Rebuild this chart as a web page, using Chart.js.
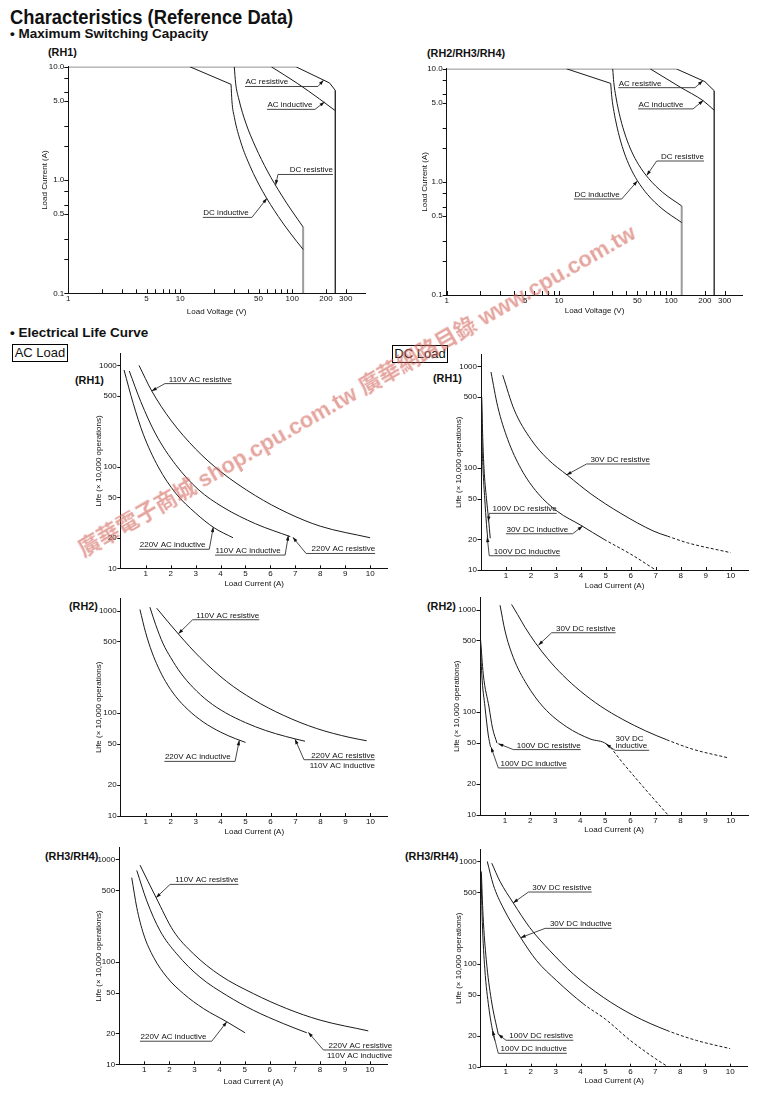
<!DOCTYPE html>
<html lang="zh-Hant">
<head>
<meta charset="UTF-8">
<title>Characteristics (Reference Data)</title>
<script src="https://cdn.jsdelivr.net/npm/chart.js@4.4.0/dist/chart.umd.min.js"></script>
<style>
  body { margin: 0; background: #fff; font-family: "Liberation Sans", Arial, sans-serif; color: #111; }
  #page { position: relative; width: 761px; height: 1093px; overflow: hidden; }
  #page canvas { position: absolute; }
  .t { position: absolute; white-space: nowrap; line-height: 1; }
  .h1 { font-weight: bold; font-size: 19.5px; transform: scaleX(0.94); transform-origin: 0 0; }
  .h2 { font-weight: bold; font-size: 13.5px; }
  .rh { font-weight: bold; font-size: 10.8px; }
  .box { position: absolute; box-sizing: border-box; width: 56px; height: 18px; border: 1px solid #000;
         font-size: 13px; line-height: 16px; text-align: center; }
  .wm { position: absolute; left: 80px; top: 540px; white-space: nowrap; line-height: 1;
        font-weight: bold; font-size: 22px; color: rgba(210, 100, 90, 0.58);
        font-family: "Liberation Sans", "Noto Sans CJK TC", sans-serif;
        transform: rotate(-30deg); transform-origin: 0 50%; z-index: 5; pointer-events: none; }
</style>
</head>
<body>
<div id="page">
  <div class="t h1" style="left:10px; top:8px;">Characteristics (Reference Data)</div>
  <div class="t h2" style="left:10px; top:26.5px;">• Maximum Switching Capacity</div>
  <div class="t rh" style="left:48px; top:46.7px;">(RH1)</div>
  <div class="t rh" style="left:427px; top:47.7px;">(RH2/RH3/RH4)</div>
  <div class="t h2" style="left:10px; top:325.5px;">• Electrical Life Curve</div>
  <div class="box" style="left:12px; top:344px;">AC Load</div>
  <div class="box" style="left:392px; top:345px;">DC Load</div>
  <div class="t rh" style="left:75px; top:374.7px;">(RH1)</div>
  <div class="t rh" style="left:433px; top:372.7px;">(RH1)</div>
  <div class="t rh" style="left:69px; top:601.4px;">(RH2)</div>
  <div class="t rh" style="left:427px; top:600.7px;">(RH2)</div>
  <div class="t rh" style="left:45px; top:850.7px;">(RH3/RH4)</div>
  <div class="t rh" style="left:405px; top:851.4px;">(RH3/RH4)</div>
  <div class="wm">廣華電子商城 shop.cpu.com.tw 廣華網路目錄 www.cpu.com.tw</div>
</div>
<script>
// ---- Maximum switching capacity, RH1 (load voltage V / load current A)
const rh1AcResV = [1, 108, 215, 242];
const rh1AcResI = [10, 10, 7.2, 6.2];
const rh1AcLimitV = [242, 242];
const rh1AcLimitI = [6.2, 0.1];
const rh1AcIndV = [65, 112, 175, 242];
const rh1AcIndI = [10, 7.1, 5.2, 4.1];
const rh1DcKneeV = [12.2, 28.4];
const rh1DcKneeI = [10, 7.0];
const rh1DcIndV = [28.4, 28.9, 30.4, 34.7, 42.2, 54.6, 75.0, 95.7, 125];
const rh1DcIndI = [7.0, 5.01, 3.58, 2.16, 1.31, 0.789, 0.477, 0.341, 0.244];
const rh1DcResV = [30.35, 31.2, 33.3, 38.5, 47.0, 60.0, 80.1, 99.3, 125];
const rh1DcResI = [10, 7.18, 5.19, 3.18, 1.96, 1.2, 0.737, 0.533, 0.385];
const rh1DcLimitV = [125, 125];
const rh1DcLimitI = [0.385, 0.1];

// ---- Maximum switching capacity, RH2/RH3/RH4
const rh2AcResV = [1, 111, 200, 242];
const rh2AcResI = [10, 10, 7.7, 6.4];
const rh2AcLimitV = [242, 242];
const rh2AcLimitI = [6.4, 0.1];
const rh2AcIndV = [65, 120, 194, 242];
const rh2AcIndI = [10, 6.9, 5.2, 4.3];
const rh2DcKneeV = [11.7, 28.95];
const rh2DcKneeI = [10, 7.43];
const rh2DcIndV = [28.95, 29.63, 30.91, 32.69, 35.07, 38.32, 42.98, 50.14, 61.9, 82.9, 124.3];
const rh2DcIndI = [7.43, 5.6, 4.21, 3.18, 2.39, 1.8, 1.357, 1.023, 0.77, 0.58, 0.437];
const rh2DcResV = [30.17, 30.85, 32.15, 33.94, 36.35, 39.62, 44.3, 51.43, 63.13, 83.86, 124.3];
const rh2DcResI = [10, 7.56, 5.72, 4.33, 3.27, 2.48, 1.873, 1.416, 1.071, 0.81, 0.613];
const rh2DcLimitV = [124.3, 124.3];
const rh2DcLimitI = [0.613, 0.1];

// ---- Electrical life, AC load (load current A / life x10,000 operations)
const acRh1Ind220X = [0.13, 0.5, 0.9, 1.5, 2.2, 3.0, 3.75, 4.5];
const acRh1Ind220L = [900, 420, 210, 100, 55, 35, 25, 20];
const acRh1MidX = [0.34, 0.8, 1.4, 2.2, 3.1, 4.1, 5.4, 6.8];
const acRh1MidL = [880, 440, 210, 105, 60, 40, 27.5, 20.5];
const acRh1Res110X = [0.73, 1.24, 2.0, 3.0, 4.0, 5.4, 6.7, 8.0, 10.0];
const acRh1Res110L = [1000, 560, 290, 150, 90, 52, 35, 26, 20];

const acRh2Ind220X = [0.77, 1.0, 1.25, 1.5, 1.8, 2.2, 2.7, 3.3, 4.0, 4.6, 5.0];
const acRh2Ind220L = [1023, 608, 394, 281, 203, 146, 108, 82.4, 65.5, 56.5, 52];
const acRh2MidX = [1.17, 1.4, 1.7, 2.0, 2.4, 2.9, 3.5, 4.2, 5.0, 5.8, 6.6, 7.38];
const acRh2MidL = [1077, 728, 474, 349, 247, 178, 131, 101, 81, 68, 59.5, 53.4];
const acRh2Res110X = [1.44, 2.31, 3.18, 4.24, 5.31, 6.51, 7.85, 9.18, 9.85];
const acRh2Res110L = [1053, 591, 348, 204, 136, 95.6, 71, 58.1, 54];

const acRh3Ind220X = [0.5, 0.7, 0.97, 1.37, 1.9, 2.56, 3.36, 4.29, 5.02];
const acRh3Ind220L = [664, 340, 187, 111, 71, 49, 35, 26, 20.3];
const acRh3MidX = [0.7, 1.1, 1.63, 2.29, 3.22, 4.29, 5.35, 6.54, 7.48];
const acRh3MidL = [782, 394, 201, 120, 71, 47, 33.7, 25, 20.3];
const acRh3Res110X = [0.83, 1.47, 2.16, 2.96, 4.02, 5.35, 6.68, 8.01, 9.93];
const acRh3Res110L = [880, 425, 201, 120, 74, 49, 35, 27, 21.2];

// ---- Electrical life, DC load
const dcRh1Ind30X = [0.4, 0.67, 1.07, 1.6, 2.27, 3.07, 4.0, 4.93, 6.0, 7.0];
const dcRh1Ind30L = [880, 403, 192, 99, 57, 37.5, 27.5, 20, 14.3, 10];
const dcRh1Res30X = [0.87, 1.33, 2.0, 2.67, 3.47, 4.4, 5.6, 6.93, 7.47, 8.27, 10.0];
const dcRh1Res30L = [820, 375, 192, 123, 85, 56, 36, 24, 21.5, 18.5, 14.8];
const dcRh1Res100X = [0.03, 0.07, 0.12, 0.22, 0.3, 0.37];
const dcRh1Res100L = [500, 200, 100, 50, 32, 20.5];
const dcRh1Ind100X = [0.02, 0.04, 0.08, 0.15, 0.22, 0.28];
const dcRh1Ind100L = [500, 200, 100, 50, 28, 19];

const dcRh2Res30X = [1.26, 1.5, 1.8, 2.2, 2.7, 3.3, 4.0, 4.8, 5.7, 6.6, 7.45, 8.5, 9.9];
const dcRh2Res30L = [1120, 894, 669, 477, 332, 230, 161, 115, 85, 66, 54, 43.6, 36];
const dcRh2Ind30X = [0.8, 1.0, 1.33, 1.86, 2.53, 3.46, 4.39, 5.05, 5.72, 6.51, 7.5];
const dcRh2Ind30L = [1100, 617, 340, 188, 112, 72, 55, 49, 31.6, 18.8, 10];
const dcRh2Res100X = [0.02, 0.13, 0.36, 0.5, 0.68];
const dcRh2Res100L = [520, 235, 112, 70, 50];
const dcRh2Ind100X = [0.01, 0.07, 0.2, 0.33, 0.42];
const dcRh2Ind100L = [520, 235, 112, 60, 46];

const dcRh3Res30X = [0.44, 0.77, 1.3, 1.97, 2.77, 3.71, 4.91, 6.12, 7.46, 8.66, 10.0];
const dcRh3Res30L = [963, 640, 395, 226, 135, 80, 47.5, 31.6, 22.6, 18, 15];
const dcRh3Ind30X = [0.26, 0.5, 0.9, 1.6, 2.24, 3.04, 4.11, 5.0, 6.0, 7.0, 7.5];
const dcRh3Ind30L = [1000, 594, 353, 181, 108, 69, 41, 29, 18, 12, 10];
const dcRh3Res100X = [0.02, 0.09, 0.22, 0.42, 0.7];
const dcRh3Res100L = [800, 300, 110, 45, 20.7];
const dcRh3Ind100X = [0.01, 0.06, 0.16, 0.32, 0.47, 0.56];
const dcRh3Ind100L = [750, 260, 90, 38, 22.6, 18];

// ---- axis ticks
const mscXTicks = [1, 2, 3, 4, 5, 6, 7, 8, 9, 10, 20, 30, 40, 50, 60, 70, 80, 90, 100, 200, 300];
const mscXLabels = [1, 5, 10, 50, 100, 200, 300];
const mscYTicks = [0.1, 0.2, 0.3, 0.5, 0.6, 0.8, 1, 2, 3, 5, 6, 8, 10];
const mscYLabels = [0.1, 0.5, 1, 5, 10];
const lifeXTicks = [1, 2, 3, 4, 5, 6, 7, 8, 9, 10];
const lifeYTicks = [10, 20, 50, 100, 500, 1000];

const FONT = '"Liberation Sans", Arial, sans-serif';
Chart.defaults.font.family = FONT;
Chart.defaults.font.size = 8;
Chart.defaults.color = '#111';
const page = document.getElementById('page');

function line(xs, ys, o = {}) {
  const ds = {
    data: xs.map((x, i) => ({ x, y: ys[i] })),
    borderColor: o.color || '#1a1a1a',
    borderWidth: o.width || 1,
    pointRadius: 0,
    fill: false,
    tension: 0,
    cubicInterpolationMode: o.smooth ? 'monotone' : 'default'
  };
  if (o.dashFrom !== undefined) {
    ds.segment = { borderDash: c => (c.p0.parsed.x >= o.dashFrom - 1e-6 ? [3, 2] : undefined) };
  }
  return ds;
}

function drawRef(chart, cfg) {
  const { ctx, chartArea: a } = chart;
  const x = chart.scales.x, y = chart.scales.y;
  ctx.save();
  ctx.strokeStyle = '#111';
  ctx.lineWidth = 1;
  ctx.beginPath();
  cfg.xTicks.forEach(v => {
    const px = Math.round(x.getPixelForValue(v)) + 0.5;
    ctx.moveTo(px, a.bottom);
    ctx.lineTo(px, a.bottom - cfg.xLen);
  });
  cfg.yTicks.forEach(v => {
    const py = Math.round(y.getPixelForValue(v)) + 0.5;
    ctx.moveTo(a.left, py);
    ctx.lineTo(a.left - cfg.yLen, py);
  });
  ctx.stroke();

  ctx.font = '8px ' + FONT;
  cfg.notes.forEach(n => {
    const x0 = x.getPixelForValue(n.x0), x1 = x.getPixelForValue(n.x1);
    const uy = y.getPixelForValue(n.y);
    const tx = x.getPixelForValue(n.tipX), ty = y.getPixelForValue(n.tipY);
    const sx = n.from === 'start' ? x0 : x1;
    ctx.strokeStyle = '#333';
    ctx.lineWidth = 0.9;
    ctx.beginPath();
    ctx.moveTo(x0, uy); ctx.lineTo(x1, uy);
    ctx.moveTo(sx, uy); ctx.lineTo(tx, ty);
    ctx.stroke();
    const ang = Math.atan2(ty - uy, tx - sx), c = Math.cos(ang), s = Math.sin(ang);
    ctx.beginPath();
    ctx.moveTo(tx, ty);
    ctx.lineTo(tx - 5 * c + 1.7 * s, ty - 5 * s - 1.7 * c);
    ctx.lineTo(tx - 5 * c - 1.7 * s, ty - 5 * s + 1.7 * c);
    ctx.closePath();
    ctx.fillStyle = '#111';
    ctx.fill();
    const align = n.align || (n.from === 'start' ? 'right' : 'left');
    ctx.textAlign = align;
    ctx.textBaseline = 'alphabetic';
    const px = align === 'right' ? x1 : x0 + 0.5;
    n.text.forEach((t, i) => ctx.fillText(t, px, uy - 2 - (n.text.length - 1 - i) * 7.5));
    (n.below || []).forEach((t, i) => ctx.fillText(t, px, uy + 8.5 + i * 7.5));
  });
  ctx.restore();
}

function panel(cfg) {
  const { box, plot } = cfg;
  const cv = document.createElement('canvas');
  cv.width = box.w; cv.height = box.h;
  Object.assign(cv.style, { left: box.x + 'px', top: box.y + 'px', width: box.w + 'px', height: box.h + 'px' });
  page.appendChild(cv);
  const yw = plot.l - box.x, pt = plot.t - box.y;
  const pr = box.x + box.w - plot.r, xh = box.y + box.h - plot.b;
  const axisFont = { size: 8 };
  new Chart(cv, {
    type: 'line',
    data: { datasets: cfg.datasets },
    options: {
      responsive: false, animation: false, devicePixelRatio: 1, events: [],
      layout: { padding: { left: 0, top: pt, right: pr, bottom: 0 } },
      plugins: { legend: { display: false }, tooltip: { enabled: false } },
      scales: {
        x: {
          type: cfg.xType, min: cfg.xMin, max: cfg.xMax,
          grid: { display: false, drawTicks: false },
          border: { color: '#111', width: 1 },
          ticks: { padding: 0.5, autoSkip: false, maxRotation: 0, color: '#111', font: axisFont,
                   callback: v => String(v) },
          title: { display: true, text: cfg.xTitle, padding: 0, color: '#111', font: axisFont },
          afterBuildTicks: s => { s.ticks = cfg.xLabels.map(v => ({ value: v })); },
          afterFit: s => { s.height = xh; }
        },
        y: {
          type: 'logarithmic', min: cfg.yMin, max: cfg.yMax,
          grid: { display: false, drawTicks: false },
          border: { color: '#111', width: 1 },
          ticks: { padding: 4, autoSkip: false, color: '#111', font: axisFont, callback: cfg.yFmt },
          title: { display: true, text: cfg.yTitle, padding: 0, color: '#111', font: axisFont },
          afterBuildTicks: s => { s.ticks = cfg.yLabels.map(v => ({ value: v })); },
          afterFit: s => { s.width = yw; }
        }
      }
    },
    plugins: [{ id: 'ref', afterDraw: chart => drawRef(chart, cfg) }]
  });
}

const GRAY = '#9c9c9c';
const msc = {
  xType: 'logarithmic', xMin: 1, yMin: 0.1, yMax: 10,
  xTicks: mscXTicks, xLabels: mscXLabels, yTicks: mscYTicks, yLabels: mscYLabels,
  xLen: 4, yLen: 4, yFmt: v => Number(v).toFixed(1),
  xTitle: 'Load Voltage (V)', yTitle: 'Load Current (A)'
};
const life = {
  xType: 'linear', xMin: 0, xMax: 10.7, yMin: 10, yMax: 1300,
  xTicks: lifeXTicks, xLabels: lifeXTicks, yTicks: lifeYTicks, yLabels: lifeYTicks,
  xLen: 3, yLen: 3.5, yFmt: v => String(v),
  xTitle: 'Load Current (A)', yTitle: 'Life (× 10,000 operations)'
};

// RH1 switching capacity
panel(Object.assign({}, msc, {
  box: { x: 40, y: 58, w: 332, h: 259 }, plot: { l: 68.3, t: 65.7, r: 365, b: 293.3 }, xMax: 446,
  datasets: [
    line(rh1AcResV, rh1AcResI), line(rh1AcLimitV, rh1AcLimitI, { width: 1.3 }),
    line(rh1AcIndV, rh1AcIndI, { smooth: true }),
    line(rh1DcKneeV, rh1DcKneeI), line(rh1DcIndV, rh1DcIndI, { smooth: true }),
    line(rh1DcResV, rh1DcResI, { smooth: true }), line(rh1DcLimitV, rh1DcLimitI, { color: GRAY, width: 2 })
  ],
  notes: [
    { text: ['AC resistive'], x0: 37.8, x1: 169.6, y: 6.7, tipX: 190, tipY: 7.62, from: 'end' },
    { text: ['AC inductive'], x0: 59.4, x1: 159.7, y: 4.21, tipX: 194, tipY: 4.9, from: 'end' },
    { text: ['DC resistive'], x0: 74.5, x1: 230.7, y: 1.12, tipX: 71, tipY: 0.905, from: 'start' },
    { text: ['DC inductive'], x0: 15.9, x1: 43.6, y: 0.468, tipX: 59.4, tipY: 0.69, from: 'end' }
  ]
}));

// RH2/RH3/RH4 switching capacity
panel(Object.assign({}, msc, {
  box: { x: 420, y: 60, w: 329, h: 256 }, plot: { l: 446.7, t: 67.3, r: 742.3, b: 295 }, xMax: 431,
  datasets: [
    line(rh2AcResV, rh2AcResI), line(rh2AcLimitV, rh2AcLimitI, { width: 1.3 }),
    line(rh2AcIndV, rh2AcIndI, { smooth: true }),
    line(rh2DcKneeV, rh2DcKneeI), line(rh2DcIndV, rh2DcIndI, { smooth: true }),
    line(rh2DcResV, rh2DcResI, { smooth: true }), line(rh2DcLimitV, rh2DcLimitI, { color: GRAY, width: 2 })
  ],
  notes: [
    { text: ['AC resistive'], x0: 33.8, x1: 163.4, y: 6.81, tipX: 191.4, tipY: 7.84, from: 'end' },
    { text: ['AC inductive'], x0: 50.7, x1: 156.8, y: 4.42, tipX: 193.6, tipY: 5.25, from: 'end' },
    { text: ['DC resistive'], x0: 74.4, x1: 196.4, y: 1.53, tipX: 60.6, tipY: 1.14, from: 'start' },
    { text: ['DC inductive'], x0: 13.6, x1: 36.3, y: 0.706, tipX: 50.1, tipY: 1.02, from: 'end' }
  ]
}));

// AC load RH1
panel(Object.assign({}, life, {
  box: { x: 94, y: 345, w: 300, h: 244 }, plot: { l: 120.8, t: 351.6, r: 387.6, b: 568.3 },
  datasets: [
    line(acRh1Ind220X, acRh1Ind220L, { smooth: true }),
    line(acRh1MidX, acRh1MidL, { smooth: true }),
    line(acRh1Res110X, acRh1Res110L, { smooth: true })
  ],
  notes: [
    { text: ['110V AC resistive'], x0: 1.77, x1: 4.45, y: 661, tipX: 1.24, tipY: 560, from: 'start' },
    { text: ['220V AC inductive'], x0: 0.74, x1: 3.55, y: 15.4, tipX: 3.71, tipY: 25.5, from: 'end' },
    { text: ['110V AC inductive'], x0: 3.78, x1: 6.59, y: 13.5, tipX: 6.72, tipY: 21, from: 'end' },
    { text: ['220V AC resistive'], x0: 7.43, x1: 10.2, y: 14.0, tipX: 6.9, tipY: 20.2, from: 'start' }
  ]
}));

// DC load RH1
panel(Object.assign({}, life, {
  box: { x: 454, y: 346, w: 301, h: 245 }, plot: { l: 481, t: 352.3, r: 748.1, b: 570 },
  datasets: [
    line(dcRh1Ind30X, dcRh1Ind30L, { smooth: true, dashFrom: 4.93 }),
    line(dcRh1Res30X, dcRh1Res30L, { smooth: true, dashFrom: 7.47 }),
    line(dcRh1Res100X, dcRh1Res100L, { smooth: true }),
    line(dcRh1Ind100X, dcRh1Ind100L, { smooth: true })
  ],
  notes: [
    { text: ['30V DC resistive'], x0: 4.23, x1: 6.77, y: 110, tipX: 3.43, tipY: 86, from: 'start' },
    { text: ['100V DC resistive'], x0: 0.33, x1: 3.03, y: 36, tipX: 0.29, tipY: 30, from: 'start' },
    { text: ['30V DC inductive'], x0: 1.0, x1: 3.67, y: 22.7, tipX: 4.07, tipY: 27, from: 'end' },
    { text: ['100V DC inductive'], x0: 0.33, x1: 3.17, y: 13.8, tipX: 0.25, tipY: 21, from: 'start' }
  ]
}));

// AC load RH2
panel(Object.assign({}, life, {
  box: { x: 94, y: 590, w: 300, h: 247 }, plot: { l: 120.7, t: 597.2, r: 387.9, b: 816 },
  datasets: [
    line(acRh2Ind220X, acRh2Ind220L, { smooth: true }),
    line(acRh2MidX, acRh2MidL, { smooth: true }),
    line(acRh2Res110X, acRh2Res110L, { smooth: true })
  ],
  notes: [
    { text: ['110V AC resistive'], x0: 2.88, x1: 5.55, y: 813, tipX: 2.31, tipY: 595, from: 'start' },
    { text: ['220V AC inductive'], x0: 1.75, x1: 4.58, y: 34, tipX: 4.75, tipY: 54.5, from: 'end' },
    { text: ['220V AC resistive'], below: ['110V AC inductive'], x0: 7.34, x1: 10.18, y: 35.3, tipX: 6.98, tipY: 56, from: 'start' }
  ]
}));

// DC load RH2
panel(Object.assign({}, life, {
  box: { x: 452, y: 589, w: 303, h: 246 }, plot: { l: 480, t: 596.5, r: 748.2, b: 815 },
  datasets: [
    line(dcRh2Res30X, dcRh2Res30L, { smooth: true, dashFrom: 7.45 }),
    line(dcRh2Ind30X, dcRh2Ind30L, { smooth: true, dashFrom: 5.05 }),
    line(dcRh2Res100X, dcRh2Res100L, { smooth: true }),
    line(dcRh2Ind100X, dcRh2Ind100L, { smooth: true })
  ],
  notes: [
    { text: ['30V DC resistive'], x0: 2.86, x1: 5.41, y: 594, tipX: 2.33, tipY: 450, from: 'start' },
    { text: ['100V DC resistive'], x0: 1.33, x1: 4.02, y: 43.3, tipX: 0.73, tipY: 49.5, from: 'start' },
    { text: ['30V DC', 'inductive'], x0: 5.39, x1: 6.75, y: 42.6, tipX: 5.03, tipY: 49, from: 'start', align: 'left' },
    { text: ['100V DC inductive'], x0: 0.73, x1: 3.46, y: 28.7, tipX: 0.44, tipY: 45.8, from: 'start' }
  ]
}));

// AC load RH3/RH4
panel(Object.assign({}, life, {
  box: { x: 94, y: 839, w: 306, h: 248 }, plot: { l: 119.2, t: 846.6, r: 387.6, b: 1064.3 },
  datasets: [
    line(acRh3Ind220X, acRh3Ind220L, { smooth: true }),
    line(acRh3MidX, acRh3MidL, { smooth: true }),
    line(acRh3Res110X, acRh3Res110L, { smooth: true })
  ],
  notes: [
    { text: ['110V AC resistive'], x0: 2.03, x1: 4.75, y: 571, tipX: 1.47, tipY: 424, from: 'start' },
    { text: ['220V AC inductive'], x0: 0.83, x1: 3.69, y: 16.8, tipX: 4.29, tipY: 26, from: 'end' },
    { text: ['220V AC resistive'], below: ['110V AC inductive'], x0: 8.14, x1: 10.88, y: 13.8, tipX: 7.54, tipY: 20.5, from: 'start' }
  ]
}));

// DC load RH3/RH4
panel(Object.assign({}, life, {
  box: { x: 454, y: 841, w: 301, h: 245 }, plot: { l: 480.8, t: 848.2, r: 747.6, b: 1066.7 },
  datasets: [
    line(dcRh3Res30X, dcRh3Res30L, { smooth: true, dashFrom: 7.46 }),
    line(dcRh3Ind30X, dcRh3Ind30L, { smooth: true, dashFrom: 4.11 }),
    line(dcRh3Res100X, dcRh3Res100L, { smooth: true }),
    line(dcRh3Ind100X, dcRh3Ind100L, { smooth: true })
  ],
  notes: [
    { text: ['30V DC resistive'], x0: 1.91, x1: 4.45, y: 504, tipX: 1.3, tipY: 395, from: 'start' },
    { text: ['30V DC inductive'], x0: 2.58, x1: 5.25, y: 223, tipX: 1.6, tipY: 181, from: 'start' },
    { text: ['100V DC resistive'], x0: 1.01, x1: 3.71, y: 18.1, tipX: 0.7, tipY: 20.7, from: 'start' },
    { text: ['100V DC inductive'], x0: 0.7, x1: 3.45, y: 13.5, tipX: 0.47, tipY: 22.6, from: 'start' }
  ]
}));
</script>
</body>
</html>
